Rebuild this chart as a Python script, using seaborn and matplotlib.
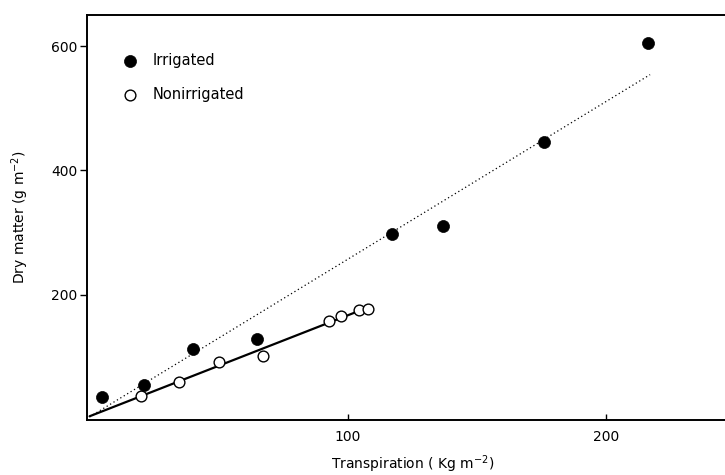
import matplotlib
matplotlib.use("Agg")
import matplotlib.pyplot as plt
import seaborn as sns
import pandas as pd

# Werte
irr_x = [5, 21, 40, 65, 117, 137, 176, 216]
irr_y = [35, 55, 112, 128, 298, 310, 445, 605]
non_x = [20, 34.5, 50, 67, 92.7, 97.4, 104.4, 107.6]
non_y = [36, 59, 92, 101, 158, 166, 175, 176.5]

# Regressionsgeraden (Endpunkte aus dem Bild)
irr_fit_x = [0, 217]
irr_fit_y = [3, 554]
non_fit_x = [0, 107]
non_fit_y = [4, 178]

x_ticks = [100, 200]
y_ticks = [200, 400, 600]

sns.set_style("ticks")
plt.rcParams['font.family'] = ['DejaVu Sans']
plt.rcParams['text.color'] = 'black'
plt.rcParams['axes.labelcolor'] = 'black'
plt.rcParams['xtick.color'] = 'black'
plt.rcParams['ytick.color'] = 'black'

df_irr = pd.DataFrame({'x': irr_x, 'y': irr_y})
df_non = pd.DataFrame({'x': non_x, 'y': non_y})

fig = plt.figure(figsize=(7.25, 4.75), dpi=100)
ax = fig.add_axes([87 / 725, 55 / 475, 638 / 725, 405 / 475])

sns.lineplot(x=irr_fit_x, y=irr_fit_y, ax=ax, color='black', lw=0.9,
             linestyle=(0, (1, 2.2)), zorder=1)
sns.lineplot(x=non_fit_x, y=non_fit_y, ax=ax, color='black', lw=1.6, zorder=1)

sns.scatterplot(data=df_irr, x='x', y='y', ax=ax, s=75, color='black',
                edgecolor='black', linewidth=0.5, zorder=3, label='Irrigated')
sns.scatterplot(data=df_non, x='x', y='y', ax=ax, s=60, facecolor='white',
                edgecolor='black', linewidth=1.0, zorder=3, label='Nonirrigated')

ax.set_xlim(-1, 246)
ax.set_ylim(-2, 650)
ax.set_xticks(x_ticks)
ax.set_yticks(y_ticks)
ax.tick_params(axis='x', direction='in', length=4, width=1, pad=7, labelsize=10)
ax.tick_params(axis='y', direction='out', length=5, width=1, pad=2, labelsize=10)

for side in ['left', 'bottom', 'top']:
    ax.spines[side].set_linewidth(1.4)
    ax.spines[side].set_color('black')
ax.spines['right'].set_visible(False)

ax.set_xlabel("Transpiration ( Kg m$^{-2}$)", fontsize=10)
ax.set_ylabel("Dry matter (g m$^{-2}$)", fontsize=10, labelpad=14)
ax.xaxis.set_label_coords(0.51, -0.083)

ax.legend(loc='upper left', bbox_to_anchor=(0.035, 0.92), frameon=False,
          fontsize=10.5, labelspacing=1.3, handletextpad=0.6, borderaxespad=0)

fig.savefig("out.png", dpi=100)
